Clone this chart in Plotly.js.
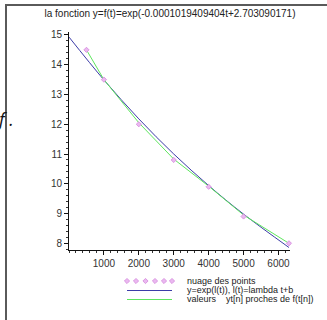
<!DOCTYPE html>
<html>
<head>
<meta charset="utf-8">
<script src="https://cdn.plot.ly/plotly-3.0.1.min.js"></script>
<style>
html,body{margin:0;padding:0;background:#fff;}
#wrap{position:relative;width:327px;height:320px;overflow:hidden;}
#chart{position:absolute;left:0;top:0;width:327px;height:320px;}
.fr{position:absolute;background:#5a5a5a;}
#ff{position:absolute;left:-1px;top:107px;font:italic 18px "Open Sans",sans-serif;color:#111;}
</style>
</head>
<body>
<div id="wrap">
<div id="chart"></div>
<div class="fr" style="left:5px;top:4px;width:322px;height:2px;"></div>
<div class="fr" style="left:5px;top:4px;width:2px;height:316px;"></div>
<div id="ff">f&nbsp;.</div>
</div>
<script>
// data
const tPoints = [500, 1000, 2000, 3000, 4000, 5000, 6300];
const yPoints = [14.5, 13.5, 12.0, 10.8, 9.9, 8.9, 8.0];

const tCurve = [0, 1000, 2000, 3000, 4000, 5000, 6300];
const yCurve = [14.93, 13.49, 12.18, 11.0, 9.94, 8.98, 7.86];

const tApprox = [500, 1000, 2000, 3000, 4000, 5000, 6300];
const yApprox = [14.5, 13.5, 12.05, 10.83, 9.92, 8.95, 8.0];

const xTicks = [1000, 2000, 3000, 4000, 5000, 6000];
const yTicks = [8, 9, 10, 11, 12, 13, 14, 15];

const titleText = "la fonction y=f(t)=exp(-0.0001019409404t+2.703090171)";
const legendLabels = [
  "nuage des points",
  "y=exp(l(t)), l(t)=lambda t+b",
  "valeurs\u00a0\u00a0\u00a0\u00a0yt[n] proches de f(t[n])"
];

const PINK = '#eab8f0', PINKLINE = '#d488dc', BLUE = '#3c3ca8', GREEN = '#5ee65e';
const FONT = '"Liberation Sans", Arial, sans-serif';

// layout pixel geometry
const W = 327, H = 320, L = 69, R = 37, T = 32, B = 70;
const legX0 = 127, legX1 = 172, legTextX = 185;
const legRows = [281, 290.5, 299.5];
const diamondXs = [127, 136, 145.5, 155, 164, 172];

const traces = [
  {x: tCurve, y: yCurve, mode: 'lines', line: {color: BLUE, width: 1, shape: 'spline'}, hoverinfo: 'skip'},
  {x: tApprox, y: yApprox, mode: 'lines', line: {color: GREEN, width: 1}, hoverinfo: 'skip'},
  {x: tPoints, y: yPoints, mode: 'markers', cliponaxis: false,
   marker: {symbol: 'diamond', size: 4, color: PINK, line: {color: PINKLINE, width: 0.8}}, hoverinfo: 'skip'},
  // legend symbols (whole-canvas pixel coordinate subplot)
  {x: diamondXs, y: diamondXs.map(() => legRows[0]), xaxis: 'x2', yaxis: 'y2', mode: 'markers',
   marker: {symbol: 'diamond', size: 4, color: PINK, line: {color: PINKLINE, width: 0.8}}, hoverinfo: 'skip'},
  {x: [legX0, legX1], y: [legRows[1], legRows[1]], xaxis: 'x2', yaxis: 'y2', mode: 'lines',
   line: {color: BLUE, width: 1}, hoverinfo: 'skip'},
  {x: [legX0, legX1], y: [legRows[2], legRows[2]], xaxis: 'x2', yaxis: 'y2', mode: 'lines',
   line: {color: GREEN, width: 1.2}, hoverinfo: 'skip'}
];

const axisCommon = {
  showline: true, linecolor: '#111', linewidth: 1, showgrid: false, zeroline: false,
  ticks: 'outside', ticklen: 4, tickcolor: '#111', tickwidth: 1,
  tickfont: {family: FONT, size: 10, color: '#333'}, fixedrange: true
};

const layout = {
  width: W, height: H,
  margin: {l: 0, r: 0, t: 0, b: 0, pad: 0},
  paper_bgcolor: 'rgba(0,0,0,0)', plot_bgcolor: 'rgba(0,0,0,0)',
  showlegend: false,
  font: {family: FONT, color: '#222'},
  title: {text: titleText, font: {family: FONT, size: 10, color: '#222'},
          xref: 'container', yref: 'container', x: 170 / W, y: 1 - 13 / H, xanchor: 'center', yanchor: 'middle'},
  xaxis: Object.assign({}, axisCommon, {domain: [L / W, (W - R) / W], anchor: 'y',
          range: [0, 6330], tickvals: xTicks, ticktext: xTicks.map(String),
          minor: {dtick: 200, ticklen: 2, tickcolor: '#333', ticks: 'outside'}}),
  yaxis: Object.assign({}, axisCommon, {domain: [B / H, (H - T) / H], anchor: 'x',
          range: [7.775, 15.1], tickvals: yTicks, ticktext: yTicks.map(String),
          minor: {dtick: 0.2, ticklen: 2, tickcolor: '#333', ticks: 'outside'}}),
  xaxis2: {domain: [0, 1], anchor: 'y2', range: [0, W], visible: false, fixedrange: true},
  yaxis2: {domain: [0, 1], anchor: 'x2', range: [H, 0], visible: false, fixedrange: true},
  annotations: legendLabels.map((txt, i) => ({
    text: txt, xref: 'x2', yref: 'y2', x: legTextX, y: legRows[i] - 0.5,
    xanchor: 'left', yanchor: 'middle', showarrow: false,
    font: {family: FONT, size: 9, color: '#222'}
  }))
};

Plotly.newPlot('chart', traces, layout, {staticPlot: true, displayModeBar: false});
</script>
</body>
</html>
